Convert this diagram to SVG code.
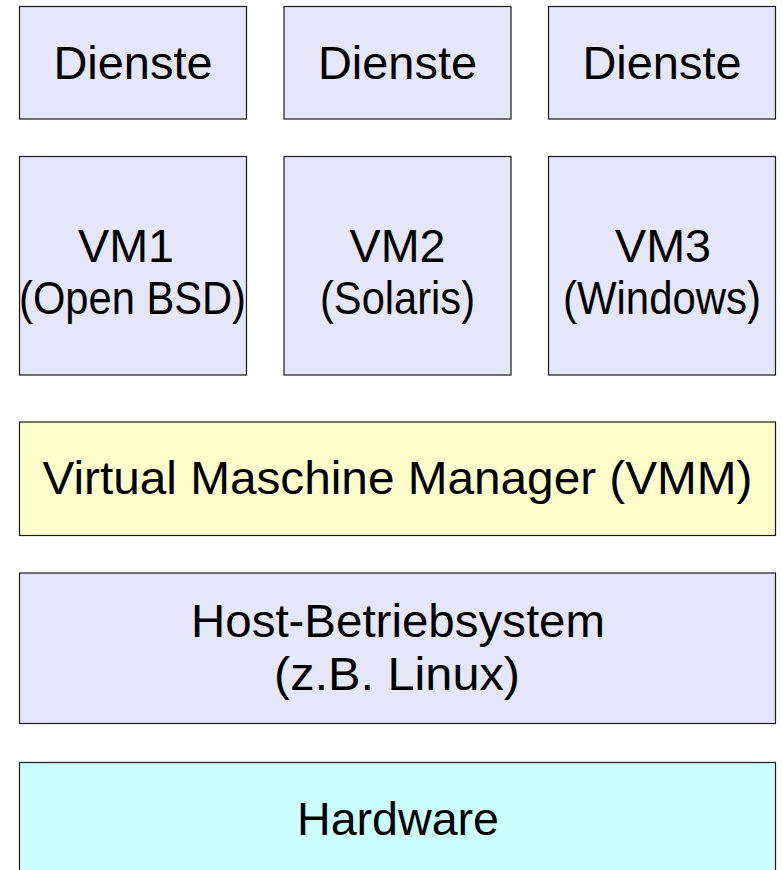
<svg xmlns="http://www.w3.org/2000/svg" width="782" height="870" viewBox="0 0 782 870">
<style>
rect{stroke:#1a1a1a;stroke-width:1.2}
.os{fill:#e6e6fa}
.vmm{fill:#ffffcc}
.hw{fill:#ccffff}
text{font-family:"Liberation Sans",Arial,Helvetica,sans-serif;font-size:47px;fill:#000;text-anchor:middle}
</style>
<rect width="782" height="870" fill="#fff" style="stroke:none"/>
<g id="dienste1"><rect class="os" x="19.5" y="6.5" width="227" height="112.5"/><text x="133" y="79" textLength="159" lengthAdjust="spacingAndGlyphs">Dienste</text></g>
<g id="dienste2"><rect class="os" x="284" y="6.5" width="227" height="112.5"/><text x="397.5" y="79" textLength="159" lengthAdjust="spacingAndGlyphs">Dienste</text></g>
<g id="dienste3"><rect class="os" x="548.5" y="6.5" width="227" height="112.5"/><text x="662" y="79" textLength="159" lengthAdjust="spacingAndGlyphs">Dienste</text></g>
<g id="vm1"><rect class="os" x="19.5" y="156.5" width="227" height="218.5"/><text x="126" y="262" textLength="96" lengthAdjust="spacingAndGlyphs">VM1</text><text x="132.5" y="314" textLength="227" lengthAdjust="spacingAndGlyphs">(Open BSD)</text></g>
<g id="vm2"><rect class="os" x="284" y="156.5" width="227" height="218.5"/><text x="397.5" y="262" textLength="96" lengthAdjust="spacingAndGlyphs">VM2</text><text x="397.5" y="314" textLength="155" lengthAdjust="spacingAndGlyphs">(Solaris)</text></g>
<g id="vm3"><rect class="os" x="548.5" y="156.5" width="227" height="218.5"/><text x="663" y="262" textLength="96" lengthAdjust="spacingAndGlyphs">VM3</text><text x="662" y="314" textLength="198" lengthAdjust="spacingAndGlyphs">(Windows)</text></g>
<g id="vmm"><rect class="vmm" x="19.5" y="422" width="756" height="113.5"/><text x="397.5" y="494" textLength="710" lengthAdjust="spacingAndGlyphs">Virtual Maschine Manager (VMM)</text></g>
<g id="host"><rect class="os" x="19.5" y="573" width="756" height="150.5"/><text x="398" y="637" textLength="414" lengthAdjust="spacingAndGlyphs">Host-Betriebsystem</text><text x="397" y="690" textLength="246" lengthAdjust="spacingAndGlyphs">(z.B. Linux)</text></g>
<g id="hardware"><rect class="hw" x="19.5" y="762.5" width="756" height="120"/><text x="398" y="835" textLength="202" lengthAdjust="spacingAndGlyphs">Hardware</text></g>
<g id="connectors"/>
</svg>
